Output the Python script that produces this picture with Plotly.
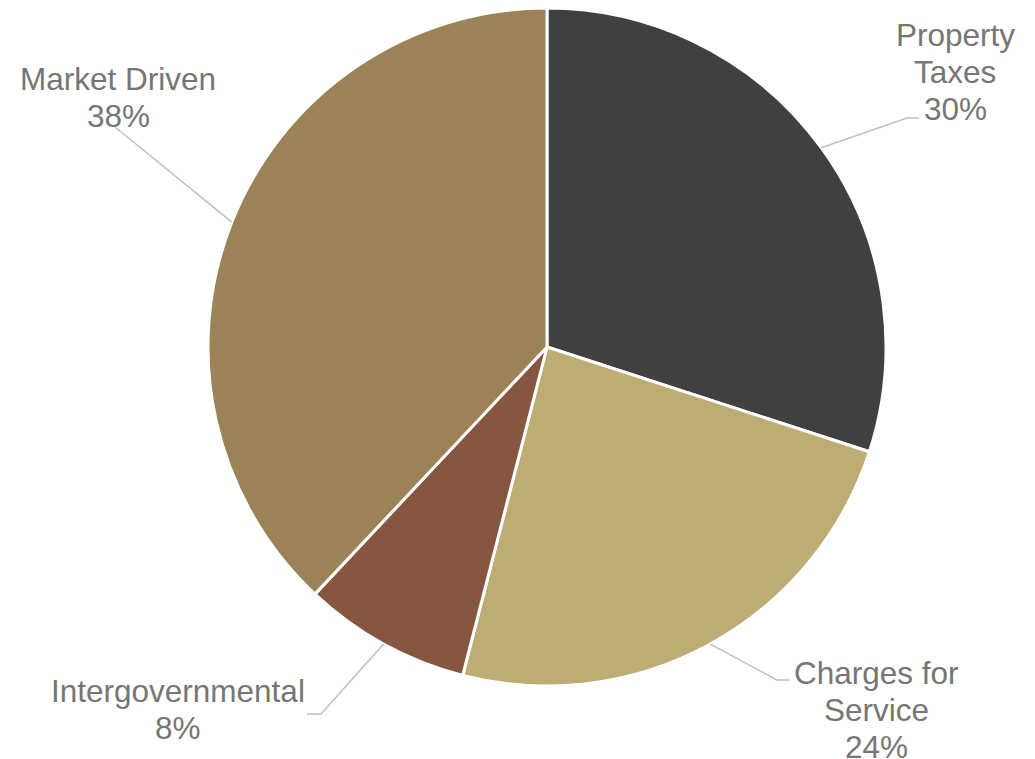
import math
import plotly.graph_objects as go

# Revenue sources (share of total, %)
categories = ["Property Taxes", "Charges for Service", "Intergovernmental", "Market Driven"]
shares = [30, 24, 8, 38]
label_lines = [["Property", "Taxes", "30%"],
               ["Charges for", "Service", "24%"],
               ["Intergovernmental", "8%"],
               ["Market Driven", "38%"]]
colors = ["#404040", "#BDAD74", "#865641", "#9B8257"]

W, H = 1035, 759
CX, CY, R = 547, 347, 339  # pie centre and radius in pixels

# label placement (pixels): text centre x, first-line y, elbow point, leader end x
label_layout = [
    dict(x=955, y0=35, elbow=(907, 118), end=919),
    dict(x=876, y0=673, elbow=(777, 680), end=789),
    dict(x=178, y0=691, elbow=(321, 714), end=307),
    dict(x=118, y0=79, elbow=(115, 127), end=115),
]
LINE_GAP = 37


def px(x):
    return x / W


def py(y):
    return 1 - y / H


fig = go.Figure(go.Pie(
    labels=categories,
    values=shares,
    sort=False,
    direction="clockwise",
    rotation=0,
    marker=dict(colors=colors, line=dict(color="white", width=3)),
    textinfo="none",
    hoverinfo="label+percent",
    domain=dict(x=[px(CX - R), px(CX + R)], y=[py(CY + R), py(CY - R)]),
))

annotations = []
shapes = []
total = sum(shares)
cum = 0
for lines, spec, v in zip(label_lines, label_layout, shares):
    mid = (cum + v / 2) / total * 2 * math.pi
    cum += v
    sx = CX + R * math.sin(mid)
    sy = CY - R * math.cos(mid)
    ex, ey = spec["elbow"]
    shapes.append(dict(
        type="path", xref="paper", yref="paper",
        path=f"M {px(sx)},{py(sy)} L {px(ex)},{py(ey)} L {px(spec['end'])},{py(ey)}",
        line=dict(color="#BFBFBF", width=1.5),
    ))
    for i, t in enumerate(lines):
        annotations.append(dict(
            text=t, showarrow=False, xref="paper", yref="paper",
            x=px(spec["x"]), y=py(spec["y0"] + i * LINE_GAP),
            xanchor="center", yanchor="middle",
            font=dict(family="Liberation Sans, Arial, sans-serif", size=31.5, color="#767676"),
        ))

fig.update_layout(
    width=W, height=H,
    margin=dict(l=0, r=0, t=0, b=0),
    paper_bgcolor="white",
    plot_bgcolor="white",
    showlegend=False,
    annotations=annotations,
    shapes=shapes,
)

fig.write_html("out.html")
